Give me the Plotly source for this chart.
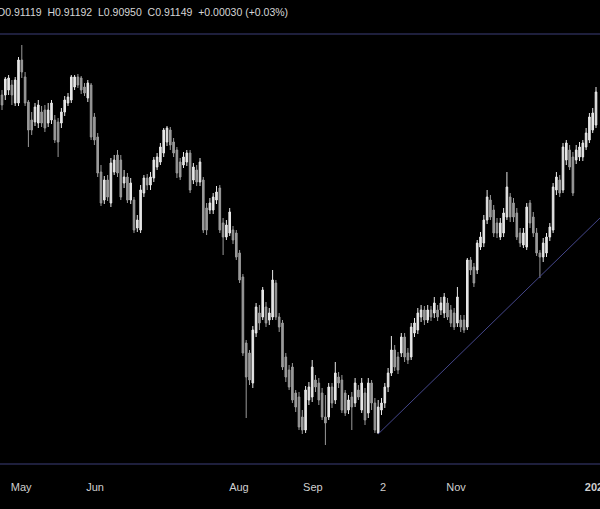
import plotly.graph_objects as go

# ---- data ----
opens = [0.9110,0.9110,0.9120,0.9130,0.9094,0.9094,0.9180,0.9146,0.9096,0.9060,
         0.9056,0.9054,0.9076,0.9080,0.9054,0.9060,0.9060,0.9056,0.9054,0.9076,
         0.9094,0.9100,0.9126,0.9146,0.9144,0.9126,0.9104,0.9130,0.9066,0.9026,
         0.8956,0.8900,0.8940,0.8894,0.8956,0.8990,0.8980,0.8934,0.8946,0.8900,
         0.8900,0.8844,0.8840,0.8914,0.8944,0.8930,0.8944,0.8966,0.8976,0.8994,
         0.9016,0.9040,0.9016,0.9000,0.8976,0.8970,0.8976,0.8994,0.8940,0.8960,
         0.8936,0.8940,0.8884,0.8880,0.8880,0.8900,0.8924,0.8854,0.8826,0.8834,
         0.8840,0.8834,0.8794,0.8746,0.8614,0.8594,0.8534,0.8634,0.8674,0.8666,
         0.8686,0.8660,0.8666,0.8734,0.8666,0.8654,0.8586,0.8560,0.8566,0.8514,
         0.8506,0.8466,0.8440,0.8500,0.8506,0.8540,0.8534,0.8514,0.8466,0.8466,
         0.8526,0.8500,0.8546,0.8540,0.8514,0.8480,0.8506,0.8494,0.8520,0.8480,
         0.8514,0.8474,0.8534,0.8494,0.8434,0.8480,0.8494,0.8526,0.8554,0.8600,
         0.8586,0.8594,0.8626,0.8594,0.8586,0.8634,0.8640,0.8666,0.8680,0.8660,
         0.8680,0.8674,0.8680,0.8680,0.8674,0.8694,0.8680,0.8674,0.8654,0.8660,
         0.8660,0.8646,0.8780,0.8766,0.8760,0.8806,0.8814,0.8860,0.8900,0.8880,
         0.8854,0.8826,0.8834,0.8866,0.8906,0.8894,0.8874,0.8834,0.8810,0.8806,
         0.8894,0.8866,0.8834,0.8794,0.8786,0.8794,0.8826,0.8840,0.8920,0.8940,
         0.8920,0.8980,0.9000,0.8986,0.8980,0.8986,0.8986,0.9006,0.9020,0.9040,
         0.9050]
highs = [0.9120,0.9146,0.9150,0.9140,0.9146,0.9186,0.9210,0.9156,0.9100,0.9076,
         0.9094,0.9100,0.9088,0.9090,0.9094,0.9100,0.9070,0.9064,0.9084,0.9108,
         0.9114,0.9150,0.9150,0.9152,0.9148,0.9134,0.9140,0.9134,0.9074,0.9034,
         0.8970,0.8948,0.8950,0.8984,0.8990,0.9000,0.8990,0.8960,0.8954,0.8944,
         0.8906,0.8870,0.8930,0.8950,0.8952,0.8956,0.8986,0.8994,0.9014,0.9044,
         0.9048,0.9046,0.9024,0.9006,0.8984,0.8996,0.9000,0.9000,0.8974,0.8970,
         0.8984,0.8946,0.8894,0.8904,0.8914,0.8928,0.8930,0.8864,0.8860,0.8884,
         0.8848,0.8840,0.8800,0.8752,0.8620,0.8600,0.8648,0.8694,0.8690,0.8726,
         0.8696,0.8684,0.8760,0.8740,0.8674,0.8660,0.8594,0.8570,0.8574,0.8520,
         0.8516,0.8480,0.8528,0.8536,0.8580,0.8550,0.8544,0.8524,0.8510,0.8534,
         0.8534,0.8576,0.8556,0.8550,0.8520,0.8510,0.8516,0.8544,0.8530,0.8544,
         0.8524,0.8544,0.8540,0.8504,0.8500,0.8504,0.8534,0.8564,0.8628,0.8610,
         0.8596,0.8634,0.8634,0.8604,0.8654,0.8664,0.8684,0.8690,0.8688,0.8690,
         0.8688,0.8706,0.8690,0.8706,0.8714,0.8704,0.8690,0.8684,0.8726,0.8670,
         0.8670,0.8784,0.8786,0.8774,0.8820,0.8836,0.8870,0.8920,0.8910,0.8890,
         0.8864,0.8864,0.8884,0.8956,0.8914,0.8904,0.8884,0.8844,0.8844,0.8894,
         0.8900,0.8876,0.8844,0.8800,0.8824,0.8834,0.8854,0.8934,0.8956,0.8950,
         0.9014,0.9020,0.9010,0.8996,0.9010,0.9016,0.9020,0.9044,0.9074,0.9084,
         0.9126]
lows = [0.9080,0.9100,0.9110,0.9090,0.9088,0.9088,0.9144,0.9088,0.9006,0.9030,
        0.9048,0.9044,0.9046,0.9036,0.9046,0.9052,0.9014,0.8986,0.9044,0.9068,
        0.9088,0.9094,0.9120,0.9124,0.9112,0.9108,0.9096,0.9020,0.9010,0.8946,
        0.8888,0.8892,0.8898,0.8886,0.8950,0.8946,0.8900,0.8924,0.8894,0.8892,
        0.8834,0.8836,0.8834,0.8906,0.8920,0.8920,0.8936,0.8960,0.8970,0.8986,
        0.9008,0.9000,0.8986,0.8944,0.8940,0.8964,0.8968,0.8914,0.8932,0.8928,
        0.8928,0.8834,0.8830,0.8872,0.8872,0.8892,0.8834,0.8790,0.8820,0.8828,
        0.8812,0.8780,0.8734,0.8588,0.8464,0.8530,0.8524,0.8626,0.8640,0.8660,
        0.8646,0.8650,0.8660,0.8660,0.8636,0.8560,0.8536,0.8520,0.8494,0.8476,
        0.8440,0.8432,0.8434,0.8490,0.8496,0.8516,0.8490,0.8460,0.8410,0.8460,
        0.8484,0.8492,0.8524,0.8474,0.8468,0.8472,0.8440,0.8486,0.8500,0.8474,
        0.8450,0.8464,0.8480,0.8434,0.8432,0.8470,0.8484,0.8516,0.8548,0.8558,
        0.8552,0.8586,0.8576,0.8572,0.8580,0.8626,0.8632,0.8656,0.8650,0.8654,
        0.8658,0.8664,0.8658,0.8670,0.8664,0.8660,0.8646,0.8640,0.8646,0.8636,
        0.8634,0.8640,0.8750,0.8726,0.8752,0.8800,0.8806,0.8852,0.8860,0.8826,
        0.8824,0.8820,0.8826,0.8860,0.8856,0.8856,0.8820,0.8806,0.8804,0.8800,
        0.8844,0.8826,0.8788,0.8744,0.8776,0.8786,0.8818,0.8834,0.8910,0.8906,
        0.8914,0.8970,0.8960,0.8908,0.8972,0.8978,0.8978,0.9000,0.9014,0.9034,
        0.9044]
closes = [0.9090,0.9142,0.9144,0.9110,0.9140,0.9180,0.9156,0.9094,0.9040,0.9040,
          0.9086,0.9090,0.9054,0.9044,0.9080,0.9094,0.9020,0.9016,0.9076,0.9100,
          0.9106,0.9146,0.9146,0.9130,0.9120,0.9114,0.9134,0.9026,0.9020,0.8954,
          0.8894,0.8940,0.8906,0.8974,0.8980,0.8954,0.8906,0.8946,0.8900,0.8934,
          0.8840,0.8860,0.8920,0.8944,0.8930,0.8946,0.8980,0.8986,0.9006,0.9040,
          0.9044,0.9010,0.8994,0.8954,0.8946,0.8986,0.8994,0.8920,0.8966,0.8936,
          0.8976,0.8840,0.8840,0.8894,0.8906,0.8916,0.8840,0.8826,0.8850,0.8876,
          0.8820,0.8786,0.8740,0.8594,0.8546,0.8540,0.8640,0.8686,0.8654,0.8720,
          0.8654,0.8674,0.8740,0.8666,0.8646,0.8566,0.8546,0.8526,0.8500,0.8486,
          0.8446,0.8440,0.8520,0.8526,0.8566,0.8526,0.8500,0.8466,0.8454,0.8526,
          0.8494,0.8554,0.8534,0.8480,0.8474,0.8500,0.8486,0.8534,0.8506,0.8534,
          0.8460,0.8534,0.8494,0.8440,0.8486,0.8494,0.8526,0.8554,0.8600,0.8566,
          0.8560,0.8626,0.8586,0.8580,0.8646,0.8654,0.8674,0.8680,0.8660,0.8680,
          0.8666,0.8694,0.8666,0.8694,0.8706,0.8666,0.8654,0.8646,0.8706,0.8646,
          0.8640,0.8780,0.8760,0.8734,0.8814,0.8826,0.8860,0.8906,0.8866,0.8834,
          0.8834,0.8854,0.8874,0.8926,0.8866,0.8866,0.8826,0.8814,0.8834,0.8886,
          0.8854,0.8834,0.8794,0.8786,0.8814,0.8826,0.8846,0.8926,0.8946,0.8914,
          0.9006,0.9014,0.8966,0.8914,0.9000,0.9006,0.9014,0.9034,0.9066,0.9074,
          0.9116]
bar_index = list(range(len(closes)))

tick_positions = [5.8, 28.2, 71.8, 94.2, 115.5, 137.6, 180.3]
tick_labels = ["May", "Jun", "Aug", "Sep", "2", "Nov", "<b>2025</b>"]

resistance = 0.9232
support = 0.8372
trend_x = [114, 181.2]
trend_y = [0.8432, 0.8864]

header = "O0.91119  H0.91192  L0.90950  C0.91149  +0.00030 (+0.03%)"

LINE_COL = "#3c3e78"

fig = go.Figure()
fig.add_trace(go.Candlestick(
    x=bar_index, open=opens, high=highs, low=lows, close=closes,
    increasing=dict(line=dict(color="#e6e6e6", width=1), fillcolor="#e6e6e6"),
    decreasing=dict(line=dict(color="#9a9a9a", width=1), fillcolor="#9a9a9a"),
    whiskerwidth=0, hoverinfo="skip", showlegend=False,
))
fig.add_trace(go.Scatter(x=trend_x, y=trend_y, mode="lines",
                         line=dict(color="#44468a", width=1),
                         hoverinfo="skip", showlegend=False))
fig.add_hline(y=resistance, line=dict(color=LINE_COL, width=1))
fig.add_hline(y=support, line=dict(color=LINE_COL, width=1))

fig.add_annotation(text=header, xref="paper", yref="paper", x=-0.008, y=1.0,
                   yshift=-4, xanchor="left", yanchor="top", showarrow=False,
                   font=dict(family="Liberation Sans", size=10.5, color="#d6d6d6"))

fig.update_layout(
    width=600, height=509,
    margin=dict(l=0, r=0, t=0, b=40, autoexpand=False),
    paper_bgcolor="#000000", plot_bgcolor="#000000",
    xaxis=dict(range=[-0.606, 181.21], showgrid=False, zeroline=False,
               rangeslider=dict(visible=False), tickmode="array",
               tickvals=tick_positions, ticktext=tick_labels, ticks="",
               ticklabelstandoff=10, ticklabeloverflow="allow",
               automargin=False,
               tickfont=dict(family="Liberation Sans", size=11, color="#cfcfcf"),
               showline=False, fixedrange=True),
    yaxis=dict(range=[0.8362, 0.93], showgrid=False, zeroline=False,
               showticklabels=False, showline=False, fixedrange=True,
               automargin=False),
    hovermode=False,
)
fig.write_html("out.html",
               config={"displayModeBar": False, "staticPlot": True},
               post_script="document.body.style.margin='0';"
                           "document.body.style.overflow='hidden';"
                           "document.body.style.background='#000';")
